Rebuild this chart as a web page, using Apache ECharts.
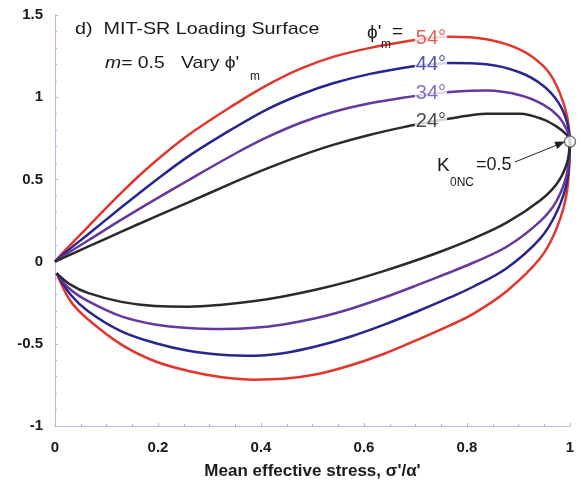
<!DOCTYPE html>
<html>
<head>
<meta charset="utf-8">
<script src="https://cdn.jsdelivr.net/npm/echarts@6/dist/echarts.min.js"></script>
<style>html,body{margin:0;padding:0;background:#fff}#c{width:581px;height:486px}</style>
</head>
<body>
<div id="c"></div>
<script>
// ---- data ----
const xTicks = [0, 0.2, 0.4, 0.6, 0.8, 1];
const yTicks = [-1, -0.5, 0, 0.5, 1, 1.5];
const curveNames = ['54°', '44°', '34°', '24°'];
const labelX = 0.73;
const k0Point = [1, 0.73];

const phi54Upper = [[0,0],[0.02,0.07],[0.065,0.215],[0.129,0.42],[0.194,0.607],[0.259,0.77],[0.346,0.95],[0.411,1.072],[0.476,1.172],[0.54,1.245],[0.612,1.30],[0.689,1.343],[0.73,1.36],[0.767,1.368],[0.838,1.353],[0.903,1.29],[0.948,1.19],[0.974,1.07],[0.994,0.889],[1,0.73]];
const phi44Upper = [[0,0],[0.02,0.055],[0.065,0.168],[0.129,0.33],[0.194,0.49],[0.259,0.64],[0.346,0.81],[0.411,0.925],[0.476,1.015],[0.54,1.085],[0.612,1.142],[0.693,1.187],[0.73,1.2],[0.767,1.208],[0.838,1.2],[0.903,1.15],[0.948,1.07],[0.977,0.97],[0.994,0.85],[1,0.73]];
const phi34Upper = [[0,0],[0.02,0.042],[0.065,0.13],[0.129,0.255],[0.194,0.377],[0.259,0.495],[0.346,0.65],[0.411,0.755],[0.476,0.843],[0.54,0.91],[0.612,0.963],[0.693,1.005],[0.73,1.02],[0.767,1.032],[0.838,1.04],[0.903,1.012],[0.948,0.955],[0.977,0.885],[0.994,0.8],[1,0.73]];
const phi24Upper = [[0,0],[0.065,0.092],[0.129,0.182],[0.194,0.272],[0.259,0.36],[0.346,0.48],[0.411,0.565],[0.476,0.643],[0.54,0.71],[0.612,0.772],[0.689,0.826],[0.73,0.851],[0.767,0.87],[0.838,0.9],[0.903,0.9],[0.948,0.865],[0.977,0.815],[0.994,0.77],[1,0.73]];

const phi54Lower = [[0.003,-0.07],[0.03,-0.24],[0.065,-0.354],[0.129,-0.505],[0.194,-0.606],[0.259,-0.665],[0.324,-0.703],[0.388,-0.718],[0.443,-0.713],[0.508,-0.685],[0.573,-0.632],[0.638,-0.562],[0.702,-0.478],[0.767,-0.388],[0.812,-0.318],[0.877,-0.18],[0.942,0.02],[0.974,0.202],[0.994,0.424],[1,0.73]];
const phi44Lower = [[0.003,-0.07],[0.03,-0.2],[0.065,-0.303],[0.129,-0.424],[0.194,-0.495],[0.259,-0.542],[0.324,-0.566],[0.388,-0.572],[0.443,-0.557],[0.508,-0.515],[0.573,-0.457],[0.638,-0.385],[0.702,-0.305],[0.767,-0.218],[0.812,-0.153],[0.877,-0.04],[0.942,0.14],[0.974,0.3],[0.994,0.485],[1,0.73]];
const phi34Lower = [[0.003,-0.07],[0.03,-0.17],[0.065,-0.242],[0.129,-0.333],[0.194,-0.382],[0.259,-0.404],[0.324,-0.41],[0.388,-0.402],[0.443,-0.382],[0.508,-0.343],[0.573,-0.288],[0.638,-0.22],[0.702,-0.145],[0.767,-0.065],[0.812,-0.007],[0.877,0.09],[0.942,0.245],[0.974,0.37],[0.994,0.535],[1,0.73]];
const phi24Lower = [[0.003,-0.07],[0.03,-0.14],[0.065,-0.192],[0.129,-0.245],[0.194,-0.27],[0.259,-0.274],[0.324,-0.262],[0.388,-0.24],[0.443,-0.212],[0.508,-0.17],[0.573,-0.119],[0.638,-0.058],[0.696,0.002],[0.748,0.06],[0.812,0.14],[0.877,0.237],[0.942,0.372],[0.974,0.472],[0.994,0.598],[1,0.73]];

// ---- styles ----
const colors = ['#e0362c', '#27268f', '#64389c', '#2a2a2a'];
const labelColors = ['#d93a3a', '#2c2b8e', '#6a4aa6', '#1a1a1a'];
const uppers = [phi54Upper, phi44Upper, phi34Upper, phi24Upper];
const lowers = [phi54Lower, phi44Lower, phi34Lower, phi24Lower];
const FONT = '"Liberation Sans", Arial, sans-serif';

const series = [];
uppers.forEach((u, i) => {
  series.push({type: 'line', data: u, showSymbol: false, smooth: 0.35, lineStyle: {color: colors[i], width: 2.5}, z: 2, silent: true, animation: false});
  series.push({type: 'line', data: lowers[i], showSymbol: false, smooth: 0.35, lineStyle: {color: colors[i], width: 2.5}, z: 2, silent: true, animation: false});
});
series.push({
  type: 'scatter', symbolSize: 1, z: 5, silent: true, animation: false,
  itemStyle: {color: 'rgba(0,0,0,0)'},
  data: uppers.map((u, i) => {
    const p = u.find(d => d[0] === labelX);
    return {value: p, label: {show: true, position: 'inside', formatter: curveNames[i], color: labelColors[i], fontSize: 20, fontFamily: FONT, backgroundColor: '#fff', padding: [0, 1, 0, 1], lineHeight: 20}};
  })
});
series.push({type: 'scatter', data: [k0Point], symbol: 'circle', symbolSize: 11, z: 10, silent: true, animation: false,
  itemStyle: {color: '#fff', borderColor: '#555', borderWidth: 1.5}});

const axisLineStyle = {color: '#a9aee3', width: 1, type: 'dotted'};
const option = {
  backgroundColor: '#fff',
  animation: false,
  grid: {left: 55, right: 11, top: 15, bottom: 60},
  xAxis: {
    type: 'value', min: xTicks[0], max: xTicks[xTicks.length - 1], interval: 0.2,
    name: 'Mean effective stress, σ\'/α\'', nameLocation: 'middle', nameGap: 37,
    nameTextStyle: {fontSize: 17, fontWeight: 'bold', color: '#1a1a1a', fontFamily: FONT},
    axisLine: {show: true, onZero: false, lineStyle: axisLineStyle},
    axisTick: {show: true, inside: true, length: 3, lineStyle: {color: '#a9aee3'}},
    minorTick: {show: true, splitNumber: 4, length: 2, lineStyle: {color: '#a9aee3'}},
    splitLine: {show: false},
    axisLabel: {fontSize: 15, fontWeight: 'bold', color: '#1a1a1a', fontFamily: FONT, margin: 14}
  },
  yAxis: {
    type: 'value', min: yTicks[0], max: yTicks[yTicks.length - 1], interval: 0.5,
    axisLine: {show: true, onZero: false, lineStyle: axisLineStyle},
    axisTick: {show: true, inside: true, length: 3, lineStyle: {color: '#a9aee3'}},
    minorTick: {show: true, splitNumber: 5, length: 2, lineStyle: {color: '#a9aee3'}},
    splitLine: {show: false},
    axisLabel: {fontSize: 15, fontWeight: 'bold', color: '#1a1a1a', fontFamily: FONT, margin: 12}
  },
  graphic: [
    {type: 'text', x: 75, y: 29, scaleX: 1.16, z: 20, style: {text: 'd)  MIT-SR Loading Surface', fontSize: 17, fontFamily: FONT, fill: '#1a1a1a', verticalAlign: 'middle'}},
    {type: 'text', x: 105, y: 63, scaleX: 1.14, z: 20, style: {text: '{i|m}= 0.5   Vary ϕ\'', fontSize: 17, fontFamily: FONT, fill: '#1a1a1a', verticalAlign: 'middle', rich: {i: {fontStyle: 'italic', fontSize: 17, fontFamily: FONT, fill: '#1a1a1a'}}}},
    {type: 'text', x: 250, y: 77, z: 20, style: {text: 'm', fontSize: 12, fontFamily: FONT, fill: '#1a1a1a', verticalAlign: 'middle'}},
    {type: 'text', x: 367, y: 33, z: 20, style: {text: 'ϕ\'', fontSize: 19, fontFamily: FONT, fill: '#1a1a1a', verticalAlign: 'middle'}},
    {type: 'text', x: 381, y: 45, z: 20, style: {text: 'm', fontSize: 12, fontFamily: FONT, fill: '#1a1a1a', verticalAlign: 'middle'}},
    {type: 'text', x: 392, y: 32, z: 20, style: {text: '=', fontSize: 19, fontFamily: FONT, fill: '#1a1a1a', verticalAlign: 'middle'}},
    {type: 'text', x: 437, y: 166, z: 20, style: {text: 'K', fontSize: 19, fontFamily: FONT, fill: '#1a1a1a', verticalAlign: 'middle'}},
    {type: 'text', x: 450, y: 183, z: 20, style: {text: '0NC', fontSize: 12, fontFamily: FONT, fill: '#1a1a1a', verticalAlign: 'middle'}},
    {type: 'text', x: 476, y: 165, z: 20, style: {text: '=0.5', fontSize: 18, fontFamily: FONT, fill: '#1a1a1a', verticalAlign: 'middle'}},
    {type: 'line', z: 20, shape: {x1: 515, y1: 162, x2: 556, y2: 145.4}, style: {stroke: '#222', lineWidth: 1}},
    {type: 'polygon', z: 20, shape: {points: [[565, 141.5], [557.3, 149.1], [554.3, 141.7]]}, style: {fill: '#222'}}
  ],
  series: series
};
const chart = echarts.init(document.getElementById('c'), null, {renderer: 'canvas'});
chart.setOption(option);
</script>
</body>
</html>
